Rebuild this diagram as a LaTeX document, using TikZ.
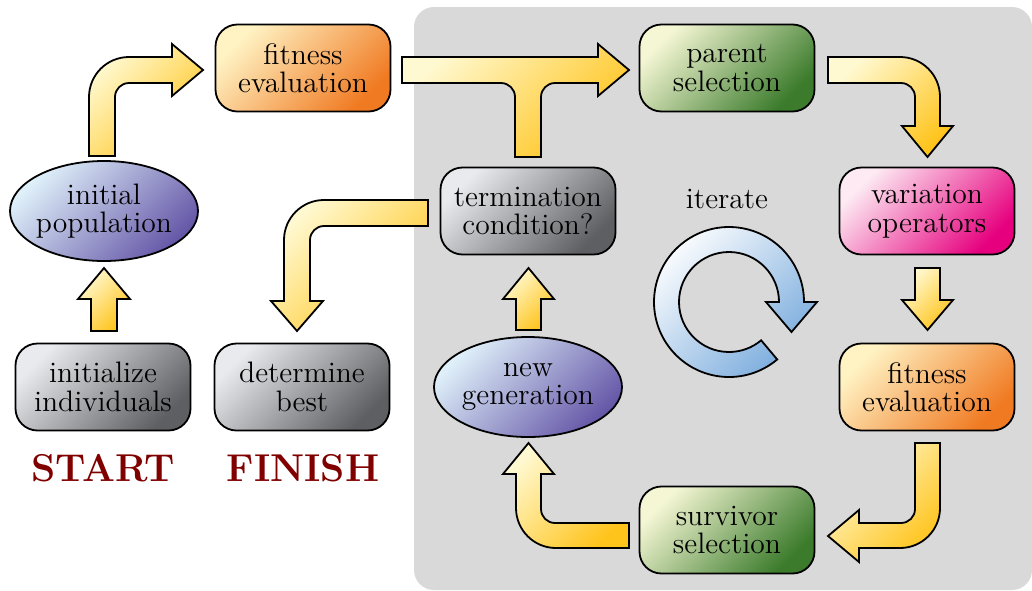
\documentclass[tikz,border=0pt]{standalone}
\usetikzlibrary{shapes.geometric}
\definecolor{yelL}{HTML}{FFF9D2}
\definecolor{yelD}{HTML}{FFC41C}
\definecolor{oraL}{HTML}{FFF3C4}
\definecolor{oraD}{HTML}{F07A22}
\definecolor{grnL}{HTML}{F4F6D4}
\definecolor{grnD}{HTML}{3B7B2B}
\definecolor{gryL}{HTML}{E9EAEE}
\definecolor{gryD}{HTML}{5E5F63}
\definecolor{pnkL}{HTML}{FDEAF3}
\definecolor{pnkD}{HTML}{E6007E}
\definecolor{ellL}{HTML}{DFF0FA}
\definecolor{ellD}{HTML}{6658A8}
\definecolor{itD}{HTML}{76A9DC}
\definecolor{bgray}{HTML}{D9D9D9}
\definecolor{maroon}{HTML}{800000}
\begin{document}
\begin{tikzpicture}[x=0.5pt,y=-0.5pt,
  base/.style={draw, line width=0.9pt, inner sep=0pt, align=center,
    font=\fontsize{14.8}{14.2}\selectfont},
  box/.style={base, rounded corners=11pt, minimum width=87.5pt, minimum height=43.5pt},
  ell/.style={base, ellipse, inner xsep=-2pt, minimum width=94pt, minimum height=50pt,
    top color=ellL, bottom color=ellD, shading angle=45},
  orabox/.style={box, top color=oraL, bottom color=oraD, shading angle=45},
  grnbox/.style={box, top color=grnL, bottom color=grnD, shading angle=45},
  grybox/.style={box, top color=gryL, bottom color=gryD, shading angle=45},
  pnkbox/.style={box, top color=pnkL, bottom color=pnkD, shading angle=45},
  fat/.style={draw, line width=0.9pt, top color=yelL, bottom color=yelD, shading angle=45},
  label/.style={font=\fontsize{19.4}{22}\selectfont\bfseries, text=maroon}
]
\useasboundingbox (0,0) rectangle (1032,590);
\fill[bgray, rounded corners=10pt] (414,7) rectangle (1032,590);

% nodes
\node[orabox] (fe1) at (303,68) {fitness\\evaluation};
\node[ell] (ip) at (104,211) {initial\\population};
\node[grybox] (init) at (103,387) {initialize\\individuals};
\node[grybox] (best) at (302,387) {determine\\best};
\node[label] (start) at (103,468) {START};
\node[label] (finish) at (303,468) {FINISH};
\node[grybox] (term) at (528,211) {termination\\condition?};
\node[grnbox] (ps) at (727,68) {parent\\selection};
\node[pnkbox] (vo) at (927,211) {variation\\operators};
\node[orabox] (fe2) at (927,387) {fitness\\evaluation};
\node[grnbox] (ss) at (727,530) {survivor\\selection};
\node[ell] (ng) at (528,387) {new\\generation};
\node[font=\fontsize{14.8}{14.2}\selectfont, inner sep=0pt] (iter) at (727,199) {iterate};

% ip -> fe1
\draw[fat] (89,156) [rounded corners=20pt] -- (89,57) [sharp corners] -- (172,57) -- (172,44)
  -- (203,70) -- (172,96) -- (172,83) [rounded corners=7pt] -- (115,83) [sharp corners]
  -- (115,156) -- cycle;
% init -> ip
\draw[fat] (91,331) -- (91,299) -- (78,299) -- (104,268) -- (130,299) -- (117,299) -- (117,331) -- cycle;
% term -> best
\draw[fat] (428,200) [rounded corners=20pt] -- (284,200) [sharp corners] -- (284,301) -- (271,301)
  -- (297,331) -- (323,301) -- (310,301) [rounded corners=7pt] -- (310,226) [sharp corners]
  -- (428,226) -- cycle;
% fe1 -> ps, with term branch
\draw[fat] (402,57) -- (598,57) -- (598,44) -- (629,70) -- (598,96) -- (598,83)
  [rounded corners=7pt] -- (541,83) [sharp corners] -- (541,157) -- (515,157)
  [rounded corners=7pt] -- (515,83) [sharp corners] -- (402,83) -- cycle;
% ps -> vo
\draw[fat] (828,57) [rounded corners=20pt] -- (940,57) [sharp corners] -- (940,126) -- (953,126)
  -- (927.5,157) -- (902,126) -- (915,126) [rounded corners=7pt] -- (915,83) [sharp corners]
  -- (828,83) -- cycle;
% vo -> fe2
\draw[fat] (915,268) -- (940,268) -- (940,300) -- (953,300) -- (927.5,330) -- (902,300) -- (915,300) -- cycle;
% fe2 -> ss
\draw[fat] (915,443) -- (940,443) [rounded corners=20pt] -- (940,548) [sharp corners] -- (859,548)
  -- (859,562) -- (828,536) -- (859,510) -- (859,523) [rounded corners=7pt] -- (915,523)
  [sharp corners] -- cycle;
% ss -> ng
\draw[fat] (629,523) -- (629,548) [rounded corners=20pt] -- (516,548) [sharp corners] -- (516,474)
  -- (503,474) -- (528.5,443) -- (554,474) -- (541,474) [rounded corners=7pt] -- (541,523)
  [sharp corners] -- cycle;
% ng -> term
\draw[fat] (516,330) -- (516,299) -- (503,299) -- (528.5,268) -- (554,299) -- (541,299) -- (541,330) -- cycle;

% iterate circular arrow
\begin{scope}[shift={(729,302)}, x=0.5pt, y=0.5pt]
  \draw[line width=0.9pt, top color=white, bottom color=itD, shading angle=45]
    (-50:75) arc[start angle=-50, end angle=-360, radius=75]
    -- (88,0) -- (62.5,-30) -- (37,0) -- (50,0)
    arc[start angle=0, end angle=310, radius=50] -- cycle;
\end{scope}
\end{tikzpicture}
\end{document}
